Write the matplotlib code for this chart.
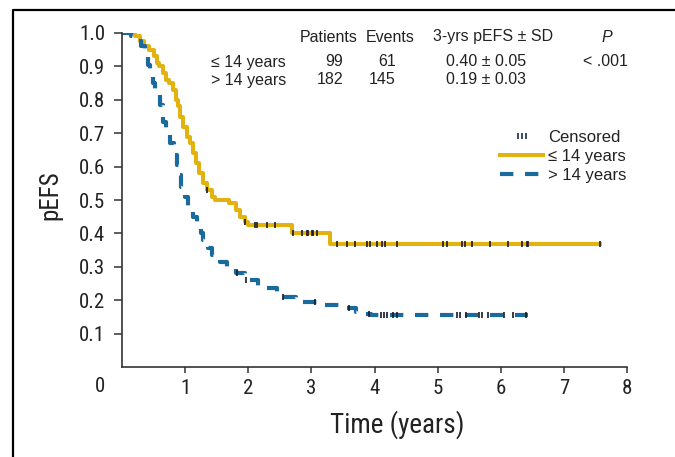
"""
Kaplan-Meier style pEFS curves by age group (<= 14 vs > 14 years).
Saves out.png (675x457).
"""

import numpy as np
import matplotlib.pyplot as plt
from matplotlib import font_manager
from matplotlib.lines import Line2D
from matplotlib.legend_handler import HandlerLine2D

# ---------------------------------------------------------------------------
# Data
# ---------------------------------------------------------------------------

# <= 14 years: step times (years) and survival after each step
young_t = [0.00, 0.20, 0.28, 0.35, 0.42, 0.50, 0.55, 0.58, 0.65, 0.70, 0.75,
           0.80, 0.85, 0.88, 0.92, 0.97, 1.03, 1.08, 1.12, 1.17, 1.22, 1.28,
           1.35, 1.42, 1.48, 1.70, 1.80, 1.87, 1.95, 2.00, 2.69, 3.30]
young_s = [1.00, 0.99, 0.975, 0.96, 0.95, 0.93, 0.91, 0.90, 0.88, 0.86, 0.85,
           0.83, 0.80, 0.78, 0.75, 0.72, 0.69, 0.67, 0.64, 0.61, 0.58, 0.55,
           0.53, 0.51, 0.50, 0.49, 0.47, 0.45, 0.435, 0.425, 0.40, 0.367]
young_end = 7.58
young_cens = [1.35, 1.95, 2.11, 2.14, 2.30, 2.43, 2.71, 2.85, 2.93, 2.95, 3.01,
              3.03, 3.09, 3.41, 3.57, 3.69, 3.88, 3.93, 4.04, 4.12, 4.17, 4.36,
              5.09, 5.15, 5.39, 5.44, 5.55, 5.83, 6.12, 6.34, 6.42, 6.43, 7.58]

# > 14 years
old_t = [0.00, 0.15, 0.25, 0.30, 0.36, 0.41, 0.45, 0.49, 0.53, 0.60, 0.65,
         0.70, 0.76, 0.82, 0.87, 0.90, 0.93, 1.00, 1.05, 1.12, 1.19, 1.25,
         1.29, 1.36, 1.43, 1.55, 1.67, 1.80, 1.95, 2.15, 2.45, 2.75, 3.15,
         3.45, 3.70, 3.85, 3.95]
old_s = [1.00, 0.99, 0.975, 0.96, 0.93, 0.905, 0.88, 0.85, 0.82, 0.785, 0.735,
         0.70, 0.67, 0.635, 0.605, 0.575, 0.54, 0.51, 0.477, 0.45, 0.43, 0.40,
         0.38, 0.355, 0.336, 0.315, 0.30, 0.28, 0.26, 0.237, 0.21, 0.195,
         0.186, 0.177, 0.165, 0.16, 0.155]
old_end = 6.43
old_cens = [1.82, 1.97, 2.55, 3.05, 3.60, 3.92, 4.10, 4.15, 4.20, 4.30, 4.35,
            5.30, 5.35, 5.45, 5.65, 5.70, 5.80, 6.05, 6.20, 6.40]

# summary table
groups = ["\u2264 14 years", "> 14 years"]
patients = [99, 182]
events = [61, 145]
pefs_3yr = ["0.40 \u00b1 0.05", "0.19 \u00b1 0.03"]
p_value = "< .001"

YELLOW = "#e2b20e"
BLUE = "#1b6a9c"
TEXT = "#222222"
SANS = ["Liberation Sans", "DejaVu Sans"]


def pick_font(candidates):
    for name in candidates:
        try:
            font_manager.findfont(name, fallback_to_default=False)
            return [name, "DejaVu Sans"]
        except Exception:
            continue
    return SANS


NARROW = pick_font(["Liberation Sans Narrow", "Roboto Condensed",
                    "Open Sans Condensed", "Liberation Sans"])


def step_xy(t, s, t_end):
    x = list(t) + [t_end]
    y = list(s) + [s[-1]]
    return x, y


def surv_at(t, s, times):
    idx = np.searchsorted(np.asarray(t), np.asarray(times), side="right") - 1
    return np.asarray(s)[idx]


W, H = 675, 457
fig = plt.figure(figsize=(W / 100, H / 100), dpi=100)
ax = fig.add_axes([122 / W, 1 - 367 / H, (627 - 122) / W, (367 - 33) / H])

# curves
yx, yy = step_xy(young_t, young_s, young_end)
ax.step(yx, yy, where="post", color=YELLOW, lw=2.9)
bx, by = step_xy(old_t, old_s, old_end)
ax.step(bx, by, where="post", color=BLUE, lw=3.0, dashes=(3.2, 2.8))

# censor marks
ax.plot(young_cens, surv_at(young_t, young_s, young_cens), ls="none",
        marker="|", ms=5, mew=1.2, color="#1a1a2a")
ax.plot(old_cens, surv_at(old_t, old_s, old_cens), ls="none",
        marker="|", ms=5, mew=1.2, color="#1a1a2a")

ax.set_xlim(0, 8)
ax.set_ylim(0, 1.0)
ax.set_xticks(range(1, 9))
ax.set_yticks(np.round(np.arange(0.1, 1.01, 0.1), 1))
ax.set_yticklabels([f"{v:.1f}" for v in np.arange(0.1, 1.01, 0.1)])
for sp in ["top", "right"]:
    ax.spines[sp].set_visible(False)
for sp in ["left", "bottom"]:
    ax.spines[sp].set_color("#333333")
    ax.spines[sp].set_linewidth(1.2)
ax.tick_params(axis="y", length=6, width=1.1, pad=6, colors="#333333",
               labelcolor=TEXT, labelsize=15)
ax.tick_params(axis="x", length=4, width=1.1, pad=5, colors="#333333",
               labelcolor=TEXT, labelsize=15)
for lab in ax.get_xticklabels() + ax.get_yticklabels():
    lab.set_family(NARROW)
ax.annotate("0", xy=(0, 0), xytext=(-22, -19), textcoords="offset pixels",
            ha="center", va="center", fontsize=15, family=NARROW,
            color=TEXT)

ax.set_xlabel("Time (years)", fontsize=19.5, family=NARROW, color=TEXT)
ax.xaxis.set_label_coords((397 - 122) / (627 - 122), -(425 - 367) / (367 - 33))
ax.xaxis.label.set_va("center")
ax.set_ylabel("pEFS", fontsize=18, family=NARROW, color=TEXT)
ax.yaxis.set_label_coords(-(122 - 50) / (627 - 122), (367 - 195) / (367 - 33))
ax.yaxis.label.set_va("center")

# legend
handles = [
    Line2D([], [], ls="none", marker="|", ms=5, mew=1.2, color="#1a2a4a"),
    Line2D([], [], color=YELLOW, lw=2.9),
    Line2D([], [], color=BLUE, lw=3.0, dashes=(3.2, 2.8)),
]
leg = ax.legend(handles, ["Censored"] + groups, loc="upper left",
                bbox_to_anchor=(500 / W, 1 - 130 / H),
                bbox_transform=fig.transFigure, frameon=False,
                handlelength=2.6, handletextpad=0.3, labelspacing=0.25,
                borderpad=0, borderaxespad=0,
                prop={"family": SANS, "size": 12},
                handler_map={handles[0]: HandlerLine2D(numpoints=3,
                                                       marker_pad=1.05)})
for t in leg.get_texts():
    t.set_color(TEXT)

# summary table
def ftext(x, y, s, **kw):
    kw.setdefault("fontsize", 11.5)
    kw.setdefault("family", SANS)
    kw.setdefault("color", TEXT)
    fig.text(x / W, 1 - y / H, s, va="center", **kw)


ftext(329, 37, "Patients", ha="center")
ftext(390, 37, "Events", ha="center")
ftext(493, 37, "3-yrs pEFS \u00b1 SD", ha="center")
ftext(607, 37, "P", ha="center", style="italic")
for i, yy_px in enumerate([62, 80]):
    ftext(211, yy_px, groups[i], ha="left")
    ftext(343, yy_px, str(patients[i]), ha="right")
    ftext(396, yy_px, str(events[i]), ha="right")
    ftext(486, yy_px, pefs_3yr[i], ha="center")
ftext(605, 62, p_value, ha="center")

# outer frame (left and top edges visible in the original crop)
fig.add_artist(Line2D([12.5 / W, 12.5 / W, 1.0], [0.0, 1 - 9.5 / H, 1 - 9.5 / H],
                      transform=fig.transFigure, color="black", lw=1.6))

fig.savefig("out.png", dpi=100)
plt.close(fig)
